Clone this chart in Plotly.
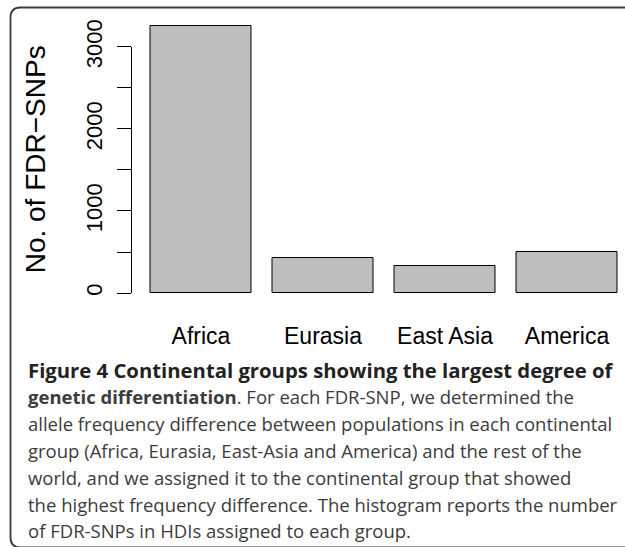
import plotly.graph_objects as go

W, H = 625, 547

categories = ["Africa", "Eurasia", "East Asia", "America"]
counts = [3255, 425, 333, 500]
yticks = [0, 1000, 2000, 3000]
ytick_labels = ["0", "1000", "2000", "3000"]
minor_step = 500
y_title = "No. of FDR\u2212SNPs"

caption_lines = [
    "<b>Figure 4 Continental groups showing the largest degree of</b>",
    "<b>genetic differentiation</b>. For each FDR-SNP, we determined the",
    "allele frequency difference between populations in each continental",
    "group (Africa, Eurasia, East-Asia and America) and the rest of the",
    "world, and we assigned it to the continental group that showed",
    "the highest frequency difference. The histogram reports the number",
    "of FDR-SNPs in HDIs assigned to each group.",
]


def px_x(p):
    return p / W


def px_y(p):
    return (H - p) / H


plot_left, plot_top, plot_bottom = 131.5, 15.0, 303.7

fig = go.Figure()
fig.add_trace(go.Bar(
    x=categories, y=counts, width=1 / 1.2,
    marker=dict(color="#bebebe", line=dict(color="black", width=1)),
    showlegend=False, hoverinfo="skip",
))

sans = "Liberation Sans, Arial, sans-serif"

fig.update_layout(
    width=W, height=H,
    margin=dict(l=0, r=0, t=0, b=0),
    paper_bgcolor="white", plot_bgcolor="white",
    bargap=0,
    xaxis=dict(
        domain=[px_x(plot_left), 1.0],
        range=[-0.5697, 3.4754],
        showgrid=False, zeroline=False, showline=False,
        ticks="", tickfont=dict(family=sans, size=23, color="black"),
        ticklabelstandoff=16,
        fixedrange=True,
    ),
    yaxis=dict(
        domain=[px_y(plot_bottom), px_y(plot_top)],
        range=[-130.5, 3390],
        showgrid=False, zeroline=False, showline=False,
        tickmode="array", tickvals=yticks, ticktext=ytick_labels,
        ticks="outside", ticklen=14, tickwidth=1, tickcolor="black",
        minor=dict(ticks="outside", ticklen=14, tickwidth=1, tickcolor="black",
                   dtick=minor_step, tick0=0, showgrid=False),
        tickangle=-90, tickfont=dict(family=sans, size=22, color="black"),
        ticklabelstandoff=6,
        title=dict(text=y_title, font=dict(family=sans, size=28, color="black"),
                   standoff=27),
        fixedrange=True,
    ),
)

# y axis line spanning the tick range (R style)
fig.add_shape(type="line", xref="paper", yref="y",
              x0=px_x(plot_left), x1=px_x(plot_left),
              y0=min(yticks), y1=max(yticks),
              line=dict(color="black", width=1))

# rounded border frame
r = 10
L, T, B, R = 10.5, 7.5, 547.5, 640
path = (f"M {px_x(R)},{px_y(T)} L {px_x(L + r)},{px_y(T)} "
        f"Q {px_x(L)},{px_y(T)} {px_x(L)},{px_y(T + r)} "
        f"L {px_x(L)},{px_y(B - r)} "
        f"Q {px_x(L)},{px_y(B)} {px_x(L + r)},{px_y(B)} L {px_x(R)},{px_y(B)}")
fig.add_shape(type="path", xref="paper", yref="paper", path=path,
              line=dict(color="#3a3a3a", width=1.8))

cap_family = "Open Sans, Noto Sans, sans-serif"
base0, step = 375.7, 26.8
for i, line in enumerate(caption_lines):
    size = 20.3 if i == 0 else 18.5
    color = "#222222" if i == 0 else "#3c3c3c"
    fig.add_annotation(
        x=px_x(26), y=px_y(base0 + i * step - 0.3 * size),
        xref="paper", yref="paper", xanchor="left", yanchor="middle",
        text=line, showarrow=False, align="left",
        font=dict(family=cap_family, size=size, color=color),
    )

fig.write_html("out.html", config={"displayModeBar": False},
               post_script="document.body.style.margin='0px';")
